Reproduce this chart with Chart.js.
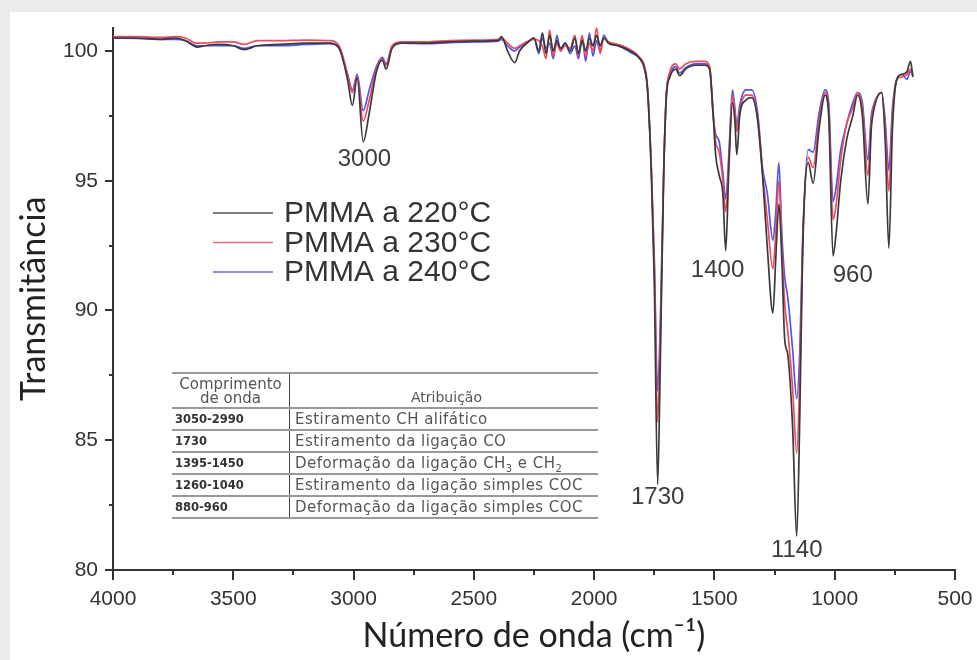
<!DOCTYPE html>
<html>
<head>
<meta charset="utf-8">
<script src="https://cdn.jsdelivr.net/npm/chart.js@4.4.1/dist/chart.umd.min.js"></script>
<style>
    html, body { margin: 0; padding: 0; background: #ebebeb; }
    #panel { position: absolute; left: 10px; top: 12px; width: 967px; height: 648px; background: #fff; }
    #chart { position: absolute; left: 0; top: 0; }
    #assign { position: absolute; left: 172px; top: 372px; width: 426px; border-collapse: collapse;
              font-family: "DejaVu Sans", sans-serif; color: #555; }
    #assign td { padding: 0; height: 20px; border-top: 2px solid #999; font-size: 15px; line-height: 16px;
                 white-space: nowrap; vertical-align: middle; }
    #assign tr:last-child td { border-bottom: 2px solid #999; }
    #assign td.c1 { width: 114px; border-right: 1px solid #444; padding-left: 3px;
                    font-weight: bold; font-size: 11.5px; color: #333; }
    #assign td.c2 { padding-left: 5px; letter-spacing: 0.45px; }
    #assign tr.head td { height: 31px; }
    #assign tr.head td.c1 { font-weight: normal; font-size: 15px; text-align: center; line-height: 14px;
                            color: #555; padding-left: 0; }
    #assign tr.head td.c2 { text-align: center; font-size: 14px; letter-spacing: 0; vertical-align: bottom;
                            padding-bottom: 2px; }
    sub { font-size: 10px; line-height: 0; }
</style>
</head>
<body>
<div id="panel"></div>
<canvas id="chart" width="977" height="660"></canvas>
<table id="assign">
    <tr class="head"><td class="c1">Comprimento<br>de onda</td><td class="c2">Atribuição</td></tr>
    <tr><td class="c1">3050-2990</td><td class="c2">Estiramento CH alifático</td></tr>
    <tr><td class="c1">1730</td><td class="c2">Estiramento da ligação CO</td></tr>
    <tr><td class="c1">1395-1450</td><td class="c2">Deformação da ligação CH<sub>3</sub> e CH<sub>2</sub></td></tr>
    <tr><td class="c1">1260-1040</td><td class="c2">Estiramento da ligação simples COC</td></tr>
    <tr><td class="c1">880-960</td><td class="c2">Deformação da ligação simples COC</td></tr>
</table>
<script>
// wavenumber (cm-1) and transmittance
const wavenumbers = [
    4000, 3900, 3800, 3740, 3700, 3650, 3620, 3560, 3500, 3455, 3400, 3300, 3200, 3100,
    3060, 3025, 3005, 2985, 2960, 2935, 2905, 2880, 2865, 2840, 2800, 2700, 2600, 2500,
    2400, 2385, 2360, 2330, 2310, 2280, 2250, 2230, 2215, 2200, 2185, 2170, 2155, 2140,
    2120, 2100, 2080, 2065, 2050, 2035, 2020, 2005, 1990, 1975, 1960, 1940, 1900, 1850,
    1810, 1790, 1778, 1762, 1750, 1736, 1725, 1711, 1700, 1685, 1660, 1645, 1620, 1580,
    1540, 1520, 1505, 1495, 1480, 1465, 1453, 1440, 1425, 1415, 1407, 1395, 1370, 1345,
    1320, 1300, 1280, 1257, 1245, 1232, 1220, 1208, 1195, 1175, 1158, 1145, 1133, 1110,
    1090, 1065, 1040, 1025, 1007, 995, 975, 950, 925, 905, 885, 862, 848, 842,
    805, 790, 775, 760, 742, 720, 700, 685, 675
]
const t220 = [
    100.50, 100.50, 100.45, 100.50, 100.40, 100.15, 100.20, 100.25, 100.20, 100.05, 100.20, 100.25, 100.30, 100.30,
    100.10, 98.90, 97.90, 98.97, 96.50, 97.60, 99.20, 99.65, 99.30, 100.10, 100.30, 100.30, 100.35, 100.38,
    100.40, 100.55, 100.00, 99.55, 100.00, 100.30, 100.50, 100.00, 100.70, 99.90, 100.60, 100.00, 100.40, 100.10,
    100.30, 100.00, 100.50, 99.90, 100.40, 100.00, 100.50, 100.20, 100.60, 100.20, 100.50, 100.30, 100.20, 100.00,
    99.70, 99.30, 98.50, 95.20, 91.10, 83.30, 88.00, 95.20, 98.20, 99.00, 99.30, 99.05, 99.30, 99.45,
    99.45, 99.30, 97.50, 96.00, 95.20, 94.50, 92.30, 95.50, 98.00, 97.30, 96.00, 97.50, 98.10, 98.20,
    97.30, 95.20, 92.40, 89.90, 92.00, 94.10, 92.00, 88.90, 88.30, 85.50, 81.30, 86.00, 92.40, 95.70,
    94.90, 97.00, 98.30, 97.50, 92.10, 92.90, 95.00, 96.60, 97.50, 98.30, 97.50, 94.10, 97.00, 97.50,
    98.40, 96.50, 92.40, 97.00, 98.90, 99.10, 99.20, 99.60, 99.00
]
const t230 = [
    100.55, 100.55, 100.52, 100.55, 100.50, 100.30, 100.30, 100.35, 100.35, 100.25, 100.40, 100.40, 100.42, 100.40,
    100.20, 99.10, 98.40, 99.00, 97.30, 98.10, 99.30, 99.70, 99.45, 100.20, 100.35, 100.35, 100.40, 100.42,
    100.45, 100.50, 100.30, 100.10, 100.20, 100.35, 100.45, 100.40, 100.20, 99.70, 100.80, 99.80, 100.30, 100.00,
    100.20, 100.10, 100.60, 99.80, 100.60, 99.80, 100.30, 100.00, 100.90, 99.90, 100.50, 100.35, 100.25, 100.05,
    99.75, 99.40, 98.60, 95.40, 91.80, 85.70, 89.00, 95.30, 98.30, 99.20, 99.50, 99.30, 99.50, 99.60,
    99.60, 99.40, 97.60, 96.50, 96.10, 95.00, 93.80, 95.80, 98.30, 97.60, 96.90, 97.70, 98.30, 98.30,
    97.40, 95.30, 93.50, 91.60, 93.00, 95.00, 92.50, 90.30, 89.20, 87.00, 84.50, 87.50, 92.60, 95.90,
    95.50, 97.30, 98.40, 97.80, 93.50, 94.00, 95.80, 97.20, 97.80, 98.40, 97.80, 95.20, 97.30, 97.70,
    98.40, 97.00, 94.60, 97.50, 98.90, 99.00, 99.10, 99.30, 99.00
]
const t240 = [
    100.50, 100.48, 100.45, 100.45, 100.40, 100.20, 100.20, 100.20, 100.20, 100.10, 100.20, 100.20, 100.25, 100.28,
    100.10, 99.10, 98.50, 99.10, 97.70, 98.50, 99.40, 99.75, 99.50, 100.15, 100.30, 100.28, 100.32, 100.35,
    100.38, 100.45, 100.20, 100.00, 100.15, 100.30, 100.50, 99.90, 100.50, 100.10, 100.30, 99.70, 100.60, 100.00,
    100.30, 99.90, 100.20, 99.70, 100.50, 99.60, 100.70, 99.80, 100.40, 100.00, 100.60, 100.30, 100.20, 99.95,
    99.70, 99.30, 98.50, 95.40, 92.00, 86.90, 89.50, 95.30, 98.30, 99.10, 99.40, 99.15, 99.35, 99.50,
    99.50, 99.35, 97.50, 96.80, 96.50, 95.30, 94.30, 96.00, 98.50, 97.80, 97.10, 97.90, 98.50, 98.50,
    97.60, 95.50, 94.50, 92.70, 93.80, 95.70, 93.00, 91.30, 90.50, 88.50, 86.60, 88.50, 92.80, 96.20,
    96.10, 97.60, 98.50, 98.00, 94.20, 94.70, 96.20, 97.20, 98.00, 98.40, 98.00, 95.80, 97.50, 97.80,
    98.40, 97.30, 95.40, 97.80, 98.90, 99.10, 98.90, 99.20, 99.10
]

const seriesNames = ['PMMA a 220°C', 'PMMA a 230°C', 'PMMA a 240°C']
const seriesColors = ['#3a3a3a', '#ee4b5e', '#5454e8']
const legendColors = ['#555555', '#f06a78', '#6a6ad6']

const xTickValues = [4000, 3500, 3000, 2500, 2000, 1500, 1000, 500]
const yTickValues = [80, 85, 90, 95, 100]

// peak labels, anchored in data units (wavenumber, transmittance)
const peakLabels = ['3000', '1730', '1400', '1140', '960']
const peakLabelX = [2955, 1736, 1487, 1158, 925]
const peakLabelY = [95.84, 82.79, 91.53, 80.76, 91.37]

const axisColor = '#333'
const arial = '"Liberation Sans", Arial, sans-serif'

const toPoints = (ys) => wavenumbers.map((w, i) => ({x: w, y: ys[i]}))

const decorations = {
    id: 'decorations',
    afterDraw(chart) {
        const {ctx, scales: {x, y}} = chart
        ctx.save()
        ctx.strokeStyle = axisColor
        ctx.lineWidth = 2
        // x ticks, every 250, pointing out
        for (let v = 500; v <= 4000; v += 250) {
            const px = Math.round(x.getPixelForValue(v))
            const len = v % 500 === 0 ? 10 : 5
            ctx.beginPath()
            ctx.moveTo(px, y.bottom)
            ctx.lineTo(px, y.bottom + len)
            ctx.stroke()
        }
        // y ticks, every 2.5, pointing out
        for (let v = 80; v <= 100; v += 2.5) {
            const py = Math.round(y.getPixelForValue(v))
            const len = v % 5 === 0 ? 8 : 4
            ctx.beginPath()
            ctx.moveTo(x.left, py)
            ctx.lineTo(x.left - len, py)
            ctx.stroke()
        }

        // peak labels
        ctx.fillStyle = '#3c3c3c'
        ctx.font = '24px ' + arial
        ctx.textAlign = 'center'
        ctx.textBaseline = 'middle'
        peakLabels.forEach((t, i) => {
            ctx.fillText(t, x.getPixelForValue(peakLabelX[i]), y.getPixelForValue(peakLabelY[i]))
        })

        // legend
        ctx.font = '30px ' + arial
        ctx.textAlign = 'left'
        ctx.lineWidth = 1.6
        seriesNames.forEach((name, i) => {
            const ly = 213 + i * 29.5
            ctx.strokeStyle = legendColors[i]
            ctx.beginPath()
            ctx.moveTo(213, ly)
            ctx.lineTo(273, ly)
            ctx.stroke()
            ctx.fillStyle = '#333'
            ctx.fillText(name, 284, ly + 1)
        })
        ctx.restore()
    }
}

new Chart(document.getElementById('chart'), {
    type: 'line',
    data: {
        datasets: [t220, t230, t240].map((ys, i) => ({
            label: seriesNames[i],
            data: toPoints(ys),
            borderColor: seriesColors[i],
            borderWidth: 1.7,
            pointRadius: 0,
            fill: false,
            cubicInterpolationMode: 'monotone'
        }))
    },
    options: {
        responsive: false,
        animation: false,
        layout: {padding: {top: 20, right: 22, left: 0, bottom: 0}},
        plugins: {
            legend: {display: false},
            tooltip: {enabled: false}
        },
        scales: {
            x: {
                type: 'linear',
                reverse: true,
                min: 500,
                max: 4000,
                afterFit: (s) => { s.height = 90; s.paddingRight = 0; s.paddingLeft = 0 },
                afterBuildTicks: (s) => { s.ticks = xTickValues.map(v => ({value: v})) },
                grid: {display: false, drawTicks: false},
                border: {display: true, color: axisColor, width: 2},
                ticks: {
                    font: {family: arial, size: 21},
                    color: '#333',
                    padding: 17,
                    maxRotation: 0,
                    callback: (v) => String(v)
                },
                title: {
                    display: true,
                    text: 'Número de onda (cm⁻¹)',
                    font: {family: 'Lato, sans-serif', size: 34},
                    color: '#222',
                    padding: {top: 0, bottom: 4}
                }
            },
            y: {
                type: 'linear',
                min: 80,
                max: 100.9,
                afterFit: (s) => { s.width = 113 },
                afterBuildTicks: (s) => { s.ticks = yTickValues.map(v => ({value: v})) },
                grid: {display: false, drawTicks: false},
                border: {display: true, color: axisColor, width: 2},
                ticks: {
                    font: {family: arial, size: 21},
                    color: '#333',
                    padding: 15,
                    callback: (v) => String(v)
                },
                title: {
                    display: true,
                    text: 'Transmitância',
                    font: {family: 'Lato, sans-serif', size: 34},
                    color: '#222',
                    padding: {top: 14, bottom: 0}
                }
            }
        }
    },
    plugins: [decorations]
})
</script>
</body>
</html>
